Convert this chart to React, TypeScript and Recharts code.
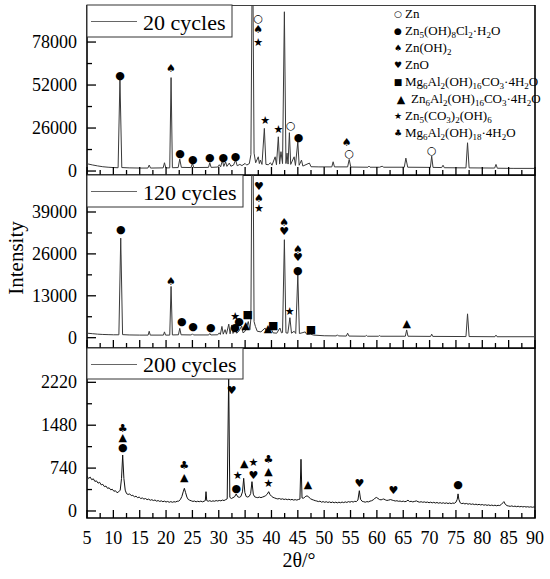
import React from 'react';
import { ComposedChart, Line, Scatter, XAxis, YAxis, ReferenceArea } from 'recharts';

type Pt = [number, number];
type Mark = [number, number, string];

// shared x axis (2θ)
const X_TICKS = [5, 7.5, 10, 12.5, 15, 17.5, 20, 22.5, 25, 27.5, 30, 32.5, 35, 37.5, 40, 42.5, 45, 47.5, 50, 52.5, 55, 57.5, 60, 62.5, 65, 67.5, 70, 72.5, 75, 77.5, 80, 82.5, 85, 87.5, 90];

// y ticks per panel (minor + labelled)
const Y_TICKS_20 = [0, 13000, 26000, 39000, 52000, 65000, 78000, 91000];
const Y_LABELS_20 = [0, 26000, 52000, 78000];
const Y_TICKS_120 = [0, 6500, 13000, 19500, 26000, 32500, 39000, 45500];
const Y_LABELS_120 = [0, 13000, 26000, 39000];
const Y_TICKS_200 = [0, 370, 740, 1110, 1480, 1850, 2220, 2590];
const Y_LABELS_200 = [0, 740, 1480, 2220];

const PANEL_NAMES = ['20 cycles', '120 cycles', '200 cycles'];

// phase legend
const PHASES = ['Zn', 'Zn_5(OH)_8Cl_2·H_2O', 'Zn(OH)_2', 'ZnO', 'Mg_6Al_2(OH)_16CO_3·4H_2O', 'Zn_6Al_2(OH)_16CO_3·4H_2O', 'Zn_5(CO_3)_2(OH)_6', 'Mg_6Al_2(OH)_18·4H_2O'];
const PHASE_SYMBOLS = ['○', '●', '♠', '♥', '■', '▲', '★', '♣'];

// 20 cycles pattern
const XRD_20: Pt[] = [
  [5, 4400], [6, 3700], [7, 3100], [8, 2600], [9, 2300], [10, 2100], [10.9, 2000], [11.25, 55500], [11.6, 2100],
  [13, 1900], [15, 1800], [16.55, 1800], [16.8, 3600], [17.05, 1800], [19.45, 1900], [19.7, 5000], [19.95, 1900],
  [20.7, 1900], [20.95, 56500], [21.2, 2000], [22.3, 2100], [22.6, 7200], [22.9, 2200], [24.75, 2100], [25.0, 4800],
  [25.25, 2100], [28.05, 2200], [28.3, 5000], [28.55, 2200], [29.8, 2400], [30.1, 3800], [30.35, 2500], [30.7, 6400],
  [30.95, 2800], [31.3, 5500], [31.55, 2800], [32.0, 4800], [32.3, 2900], [32.8, 3600], [33.2, 6600], [33.5, 3200],
  [34.0, 4000], [34.4, 3300], [35.0, 4600], [35.3, 3600], [35.8, 4500], [36.1, 10000], [36.4, 150000], [36.7, 10800],
  [37.0, 5000], [37.5, 8600], [37.7, 4500], [37.9, 6600], [38.2, 4000], [38.65, 25800], [38.95, 4000], [39.4, 3800],
  [39.8, 5000], [40.1, 3500], [40.7, 8600], [40.95, 3800], [41.3, 20700], [41.55, 4200], [41.8, 11700], [42.1, 4500],
  [42.45, 96300], [42.75, 4500], [42.95, 10800], [43.15, 4200], [43.4, 23200], [43.65, 4000], [44.3, 8600], [44.55, 3400],
  [45.0, 17700], [45.25, 3500], [45.7, 6600], [45.95, 3000], [47.2, 4800], [47.5, 2600], [49, 2500], [51.45, 2500],
  [51.7, 5600], [51.95, 2500], [54.45, 2500], [54.75, 7000], [55.05, 2400], [58.3, 2300], [58.5, 3000], [58.7, 2300],
  [60.5, 2300], [61, 2900], [61.3, 2300], [65.2, 2300], [65.5, 7800], [65.85, 2300], [70.15, 2200], [70.4, 9000],
  [70.65, 2200], [72.3, 2100], [72.55, 3500], [72.8, 2000], [76.9, 1900], [77.2, 17100], [77.5, 1900], [82.35, 1800],
  [82.6, 4000], [82.85, 1700], [86, 1600], [90, 1600],
];

// 120 cycles pattern
const XRD_120: Pt[] = [
  [5, 1400], [6, 1250], [7, 1100], [8, 1000], [9, 950], [10, 900], [11.05, 900], [11.4, 30900], [11.75, 950],
  [13, 850], [15, 800], [16.6, 800], [16.8, 2000], [17.0, 800], [19.5, 800], [19.7, 1800], [19.9, 800], [20.7, 800],
  [20.95, 15900], [21.2, 850], [22.35, 900], [22.6, 2900], [22.85, 900], [24.8, 850], [25.0, 1200], [25.2, 850],
  [28.1, 850], [28.3, 1300], [28.5, 850], [29.8, 900], [30.1, 1500], [30.3, 1000], [30.6, 3500], [30.85, 1100],
  [31.2, 2500], [31.45, 1100], [31.9, 4200], [32.15, 1200], [32.45, 3950], [32.7, 1300], [33.1, 3000], [33.4, 1400],
  [33.8, 2000], [34.35, 3600], [34.6, 1500], [35.0, 2000], [35.6, 5000], [35.9, 2500], [36.1, 6000], [36.4, 90000],
  [36.7, 5000], [36.95, 3500], [37.3, 2000], [38.0, 1800], [38.8, 3000], [39.1, 1500], [39.4, 2200], [40.0, 2600],
  [40.3, 1500], [41.0, 1400], [41.6, 3000], [41.9, 1500], [42.1, 1600], [42.45, 30400], [42.75, 1500], [43.1, 1400],
  [43.5, 6200], [43.8, 1400], [44.3, 2000], [44.6, 1300], [45.0, 19500], [45.3, 1300], [45.8, 1500], [46.4, 1800],
  [46.7, 1000], [47.4, 1100], [48, 800], [50, 600], [52.3, 550], [52.5, 900], [52.7, 550], [54.2, 500], [54.45, 1400],
  [54.7, 500], [57.8, 450], [58, 700], [58.2, 450], [60.3, 450], [60.5, 650], [60.7, 450], [65.4, 450], [65.65, 2400],
  [65.9, 450], [70.2, 400], [70.4, 1100], [70.6, 400], [76.9, 350], [77.2, 7400], [77.5, 350], [82.4, 300], [82.6, 800],
  [82.8, 300], [90, 300],
];

// 200 cycles pattern
const XRD_200: Pt[] = [
  [5, 600], [5.3, 560], [5.6, 585], [5.9, 540], [6.2, 555], [6.5, 510], [6.8, 520], [7.1, 480], [7.4, 495], [7.7, 450],
  [8.0, 460], [8.3, 420], [8.6, 430], [8.9, 390], [9.2, 400], [9.5, 365], [9.8, 375], [10.1, 340], [10.4, 350], [10.7, 315],
  [11.0, 330], [11.3, 360], [11.55, 560], [11.77, 966], [12.0, 560], [12.25, 360], [12.5, 300], [12.8, 285], [13.1, 295],
  [13.4, 265], [13.7, 270], [14.0, 245], [14.3, 255], [14.6, 230], [14.9, 240], [15.2, 215], [15.5, 225], [15.8, 205],
  [16.1, 215], [16.4, 195], [16.7, 205], [17.0, 185], [17.3, 195], [17.6, 180], [17.9, 190], [18.2, 170], [18.5, 180],
  [18.8, 165], [19.1, 175], [19.4, 160], [19.7, 170], [20.0, 155], [20.3, 165], [20.6, 150], [20.9, 162], [21.2, 150],
  [21.5, 160], [21.8, 155], [22.1, 168], [22.4, 170], [22.7, 195], [23.0, 250], [23.25, 330], [23.47, 391], [23.7, 320],
  [23.95, 240], [24.2, 200], [24.5, 185], [24.8, 175], [25.1, 165], [25.4, 172], [25.7, 158], [26.0, 168], [26.3, 160],
  [26.6, 170], [26.9, 158], [27.2, 168], [27.45, 180], [27.58, 333], [27.72, 180], [28.0, 168], [28.3, 178], [28.6, 165],
  [28.9, 175], [29.2, 168], [29.5, 180], [29.8, 172], [30.1, 182], [30.4, 175], [30.7, 188], [31.0, 180], [31.3, 195],
  [31.6, 210], [31.88, 2330], [32.1, 235], [32.4, 215], [32.7, 230], [33.0, 245], [33.3, 293], [33.6, 245], [33.9, 235],
  [34.2, 250], [34.5, 330], [34.73, 564], [34.95, 320], [35.2, 250], [35.5, 240], [35.8, 255], [36.05, 300], [36.3, 506],
  [36.55, 290], [36.8, 245], [37.1, 235], [37.4, 230], [37.7, 240], [38.0, 230], [38.3, 240], [38.6, 250], [38.9, 265],
  [39.2, 290], [39.47, 333], [39.75, 280], [40.0, 255], [40.3, 235], [40.6, 225], [40.9, 215], [41.2, 208], [41.5, 215],
  [41.8, 202], [42.1, 210], [42.4, 198], [42.7, 206], [43.0, 195], [43.3, 203], [43.6, 192], [43.9, 200], [44.2, 188],
  [44.5, 196], [44.8, 188], [45.1, 198], [45.4, 205], [45.6, 892], [45.8, 225], [46.1, 220], [46.4, 248], [46.75, 262],
  [47.1, 238], [47.4, 212], [47.7, 198], [48.0, 188], [48.3, 178], [48.6, 172], [48.9, 162], [49.2, 170], [49.5, 152],
  [49.8, 162], [50.1, 150], [50.4, 160], [50.7, 147], [51.0, 157], [51.3, 144], [51.6, 154], [51.9, 142], [52.2, 152],
  [52.5, 140], [52.8, 152], [53.1, 142], [53.4, 154], [53.7, 144], [54.0, 157], [54.3, 147], [54.6, 162], [54.9, 152],
  [55.2, 164], [55.5, 154], [55.8, 167], [56.1, 162], [56.4, 188], [56.67, 350], [56.9, 202], [57.2, 167], [57.5, 160],
  [57.8, 152], [58.1, 162], [58.4, 157], [58.7, 170], [59.0, 177], [59.3, 192], [59.6, 217], [59.9, 234], [60.2, 217],
  [60.5, 197], [60.8, 192], [61.1, 202], [61.3, 207], [61.6, 192], [61.9, 182], [62.2, 187], [62.6, 197], [62.9, 187],
  [63.2, 180], [63.5, 172], [63.8, 177], [64.1, 167], [64.4, 172], [64.7, 162], [65.0, 170], [65.3, 160], [65.6, 167],
  [65.9, 187], [66.2, 162], [66.5, 167], [66.8, 157], [67.1, 164], [67.5, 174], [67.8, 160], [68.1, 152], [68.4, 160],
  [68.7, 150], [69.0, 157], [69.3, 147], [69.6, 154], [69.9, 142], [70.2, 152], [70.5, 140], [70.8, 150], [71.1, 137],
  [71.4, 147], [71.7, 134], [72.0, 144], [72.3, 132], [72.6, 142], [72.9, 130], [73.2, 140], [73.5, 128], [73.8, 138],
  [74.1, 127], [74.4, 137], [74.7, 132], [75.0, 152], [75.25, 202], [75.4, 295], [75.55, 202], [75.8, 142], [76.1, 127],
  [76.4, 134], [76.7, 122], [77.0, 130], [77.3, 117], [77.6, 126], [77.9, 114], [78.2, 122], [78.5, 110], [78.8, 118],
  [79.1, 107], [79.4, 115], [79.7, 104], [80.0, 112], [80.3, 100], [80.6, 108], [80.9, 97], [81.2, 105], [81.5, 94],
  [81.8, 102], [82.1, 92], [82.4, 100], [82.7, 90], [83.0, 98], [83.3, 94], [83.6, 112], [83.9, 142], [84.1, 162],
  [84.35, 117], [84.7, 92], [85.0, 86], [85.3, 80], [85.6, 88], [85.9, 77], [86.2, 84], [86.5, 74], [86.8, 82],
  [87.1, 72], [87.4, 79], [87.7, 70], [88.0, 77], [88.3, 68], [88.6, 74], [88.9, 66], [89.2, 72], [89.5, 64],
  [89.8, 70], [90, 66],
];

// phase markers above peaks: [2θ, intensity, symbol]
const MARKS_20: Mark[] = [
  [11.26, 58000, '●'], [20.94, 61700, '♠'], [22.65, 10900, '●'], [25.06, 7100, '●'], [28.3, 8000, '●'],
  [30.87, 8000, '●'], [33.2, 8500, '●'], [37.5, 92500, '○'], [37.5, 85700, '♠'], [37.5, 77600, '★'],
  [38.8, 30400, '★'], [41.3, 25200, '★'], [43.65, 27800, '○'], [45.15, 20400, '●'], [54.28, 17100, '♠'],
  [54.77, 10700, '○'], [70.4, 12300, '○'],
];

const MARKS_120: Mark[] = [
  [11.4, 33500, '●'], [20.94, 17400, '♠'], [22.97, 5000, '●'], [25.1, 3400, '●'], [28.5, 3100, '●'],
  [33.1, 6600, '★'], [33.1, 3100, '●'], [33.84, 5000, '●'], [35.1, 3900, '▲'], [35.5, 7100, '■'],
  [37.6, 47000, '♥'], [37.6, 43300, '♠'], [37.6, 40200, '★'], [39.35, 2700, '▲'], [40.35, 3700, '■'],
  [42.4, 35600, '♠'], [42.4, 32800, '♥'], [43.45, 8200, '★'], [45.0, 27400, '♠'], [45.0, 24900, '♥'],
  [45.0, 20900, '●'], [47.5, 2600, '■'], [65.66, 4260, '▲'],
];

const MARKS_200: Mark[] = [
  [11.77, 1427, '♣'], [11.77, 1260, '▲'], [11.77, 1096, '●'], [23.46, 788, '♣'], [23.46, 581, '▲'],
  [32.45, 2087, '♥'], [33.6, 615, '★'], [33.35, 391, '●'], [34.85, 823, '▲'], [36.58, 836, '★'],
  [36.58, 612, '♥'], [39.42, 880, '♣'], [39.42, 673, '▲'], [39.42, 472, '★'], [46.95, 454, '▲'],
  [56.67, 478, '♥'], [63.12, 350, '♥'], [75.4, 449, '●'],
];

const SERIF = 'Liberation Serif';
const GLYPH_FONT = 'DejaVu Sans';

const toRows = (pts: Pt[]) => pts.map(([x, y]) => ({ x, y }));
const toMarks = (ms: Mark[]) => ms.map(([x, y, s]) => ({ x, y, s }));

const makeXTick = (showLabels: boolean) => (props: any) => {
  const { x, y, payload } = props;
  const major = payload.value % 5 === 0;
  return (
    <g>
      <line x1={x} x2={x} y1={y} y2={y - (major ? 8 : 5)} stroke="#000" strokeWidth={1.3} />
      {showLabels && major && (
        <text x={x} y={y + 26} textAnchor="middle" fontSize={18} fontFamily={SERIF} fill="#000">
          {payload.value}
        </text>
      )}
    </g>
  );
};

const makeYTick = (labels: number[]) => (props: any) => {
  const { x, y, payload } = props;
  const major = labels.includes(payload.value);
  return (
    <g>
      <line x1={x} x2={x + (major ? 9 : 5)} y1={y} y2={y} stroke="#000" strokeWidth={1.3} />
      {major && (
        <text x={x - 10} y={y + 6} textAnchor="end" fontSize={18} fontFamily={SERIF} fill="#000">
          {payload.value}
        </text>
      )}
    </g>
  );
};

const glyph = (props: any) => (
  <text x={props.cx} y={props.cy} textAnchor="middle" dominantBaseline="central"
    fontSize={11} fontFamily={GLYPH_FONT} fill="#000">
    {props.payload.s}
  </text>
);

function Formula({ text, x, y }: { text: string; x: number; y: number }) {
  const parts = text.split(/_(\d+)/);
  let shifted = false;
  return (
    <text x={x} y={y} fontSize={13} fontFamily={SERIF} fill="#000">
      {parts.map((p, i) => {
        if (i % 2 === 1) {
          shifted = true;
          return <tspan key={i} fontSize={9} dy={3}>{p}</tspan>;
        }
        if (p === '') return null;
        const dy = shifted ? -3 : 0;
        shifted = false;
        return <tspan key={i} dy={dy}>{p}</tspan>;
      })}
    </text>
  );
}

interface PanelProps {
  top: number;
  plotHeight: number;
  axisHeight: number;
  pts: Pt[];
  marks: Mark[];
  domain: [number, number];
  yTicks: number[];
  yLabels: number[];
  stroke: string;
  showXLabels: boolean;
}

// axes with zero size are not drawn, so the y axis takes the left margin
// and the x axis keeps a strip below the plot (also room for the "0" label)
function Panel({ top, plotHeight, axisHeight, pts, marks, domain, yTicks, yLabels, stroke, showXLabels }: PanelProps) {
  return (
    <div style={{ position: 'absolute', left: 0, top }}>
      <ComposedChart width={550} height={plotHeight + axisHeight} margin={{ top: 0, right: 15, bottom: 0, left: 0 }}>
        <XAxis type="number" dataKey="x" domain={[5, 90]} ticks={X_TICKS} interval={0} allowDataOverflow
          height={axisHeight} axisLine={false} tickLine={false} tickSize={0} tickMargin={0} tick={makeXTick(showXLabels)} />
        <YAxis type="number" domain={domain} ticks={yTicks} interval={0} allowDataOverflow
          width={87} axisLine={false} tickLine={false} tickSize={0} tickMargin={0} tick={makeYTick(yLabels)} />
        <ReferenceArea x1={5} x2={90} y1={domain[0]} y2={domain[1]} fill="none" fillOpacity={0}
          stroke="#000" strokeWidth={1.6} ifOverflow="visible" />
        <Line data={toRows(pts)} dataKey="y" type="linear" stroke={stroke} strokeWidth={1}
          dot={false} activeDot={false} isAnimationActive={false} />
        <Scatter data={toMarks(marks)} dataKey="y" shape={glyph} isAnimationActive={false} />
      </ComposedChart>
    </div>
  );
}

const LEGEND_BOXES = [
  { y: 5, h: 32, w: 145, base: 29.5 },
  { y: 175, h: 32, w: 156, base: 200 },
  { y: 348, h: 31, w: 156, base: 372 },
];

export default function App() {
  return (
    <div style={{ position: 'absolute', left: 0, top: 0, width: 550, height: 579, background: '#fff' }}>
      <Panel top={5} plotHeight={170} axisHeight={12} pts={XRD_20} marks={MARKS_20} domain={[-2400, 100400]}
        yTicks={Y_TICKS_20} yLabels={Y_LABELS_20} stroke="#3a3a3a" showXLabels={false} />
      <Panel top={175} plotHeight={173} axisHeight={12} pts={XRD_120} marks={MARKS_120} domain={[-3200, 50480]}
        yTicks={Y_TICKS_120} yLabels={Y_LABELS_120} stroke="#3a3a3a" showXLabels={false} />
      <Panel top={348} plotHeight={170} axisHeight={61} pts={XRD_200} marks={MARKS_200} domain={[-121, 2812]}
        yTicks={Y_TICKS_200} yLabels={Y_LABELS_200} stroke="#111" showXLabels={true} />

      <svg width={550} height={579} style={{ position: 'absolute', left: 0, top: 0, pointerEvents: 'none' }}>
        {LEGEND_BOXES.map((b, i) => (
          <g key={i}>
            <rect x={87} y={b.y} width={b.w} height={b.h} fill="#fff" stroke="#333" strokeWidth={1} />
            <line x1={91} x2={137} y1={b.y + 16.5} y2={b.y + 16.5} stroke="#666" strokeWidth={1.2} />
            <text x={143} y={b.base} fontSize={22} fontFamily={SERIF} fill="#000">{PANEL_NAMES[i]}</text>
          </g>
        ))}
        {PHASES.map((p, i) => {
          const base = 18 + 17 * i;
          const tri = PHASE_SYMBOLS[i] === '▲';
          return (
            <g key={p}>
              <text x={tri ? 401 : 398} y={base - 4} textAnchor="middle" dominantBaseline="central"
                fontSize={tri ? 11 : 9} fontFamily={GLYPH_FONT} fill="#000">{PHASE_SYMBOLS[i]}</text>
              <Formula text={p} x={tri ? 411 : 405} y={base} />
            </g>
          );
        })}
        <text x={16} y={258} transform="rotate(-90 16 258)" textAnchor="middle" dominantBaseline="central"
          fontSize={21} fontFamily={SERIF} fill="#000">Intensity</text>
        <text x={299} y={567} textAnchor="middle" fontSize={20} fontFamily={SERIF} fill="#000">2θ/°</text>
      </svg>
    </div>
  );
}
